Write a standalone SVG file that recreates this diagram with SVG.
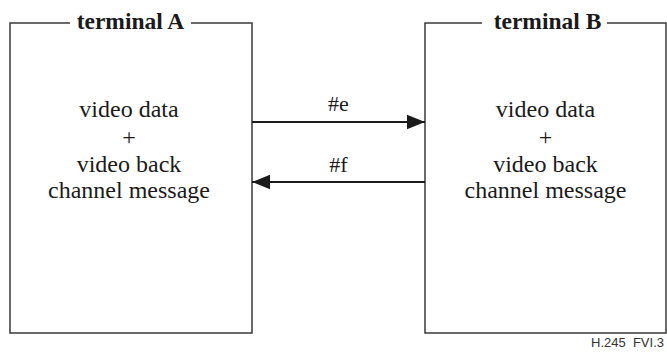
<svg xmlns="http://www.w3.org/2000/svg" width="667" height="356" viewBox="0 0 667 356">
<style>
.frame{fill:none;stroke:#3a3a3a;stroke-width:1.5}
.ttl{font-family:'Liberation Serif','Times New Roman','DejaVu Serif',serif;font-weight:bold;font-size:23.5px;fill:#1a1a1a;text-anchor:middle}
.body{font-family:'Liberation Serif','Times New Roman','DejaVu Serif',serif;font-size:24px;fill:#1a1a1a;text-anchor:middle}
.lbl{font-family:'Liberation Serif','Times New Roman','DejaVu Serif',serif;font-size:22px;fill:#1a1a1a;text-anchor:middle}
.conn{stroke:#1a1a1a;stroke-width:1.8;fill:none}
.ref{font-family:'Liberation Sans',Arial,sans-serif;font-size:13px;fill:#333;text-anchor:end}
</style>
<defs>
<marker id="ah" viewBox="0 0 10 10" refX="10" refY="5" markerWidth="18" markerHeight="18" markerUnits="userSpaceOnUse" orient="auto">
<path d="M0,1 L10,5 L0,9 Z" fill="#1a1a1a"/>
</marker>
</defs>
<g id="terminalA">
<path class="frame" d="M70,23 H10 V333 H252 V23 H191"/>
<text class="ttl" x="130.5" y="29">terminal A</text>
<text class="body" x="129" y="117">video data</text>
<text class="body" x="129" y="145">+</text>
<text class="body" x="129" y="172">video back</text>
<text class="body" x="129" y="198">channel message</text>
</g>
<g id="terminalB">
<path class="frame" d="M482,23 H425 V333 H666 V23 H607"/>
<text class="ttl" x="547.5" y="29">terminal B</text>
<text class="body" x="545.5" y="117">video data</text>
<text class="body" x="545.5" y="145">+</text>
<text class="body" x="545.5" y="172">video back</text>
<text class="body" x="545.5" y="198">channel message</text>
</g>
<g id="connectors">
<line class="conn" x1="252" y1="122" x2="425" y2="122" marker-end="url(#ah)"/>
<text class="lbl" x="338.5" y="111">#e</text>
<line class="conn" x1="425" y1="182" x2="252" y2="182" marker-end="url(#ah)"/>
<text class="lbl" x="338.5" y="172">#f</text>
</g>
<text class="ref" x="664" y="347" xml:space="preserve">H.245  FVI.3</text>
</svg>
